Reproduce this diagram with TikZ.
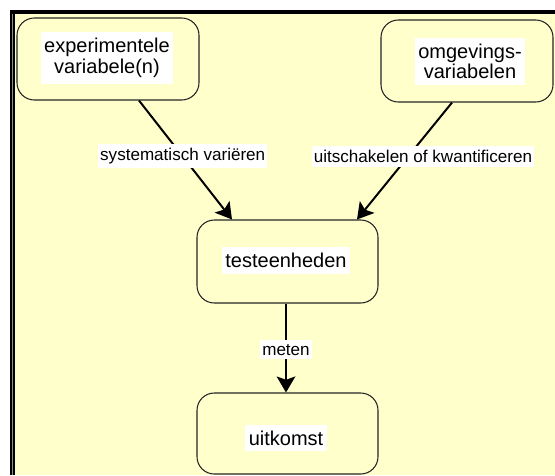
\documentclass[tikz,border=0pt]{standalone}
\usepackage{fontspec}
\setmainfont{Liberation Sans}
\usetikzlibrary{arrows.meta,calc}

\definecolor{paper}{HTML}{FFFFCC}

\tikzset{
  stagebox/.style={draw=black!85, line width=0.8pt, fill=paper,
    rounded corners=13pt, inner sep=0pt},
  stagetext/.style={fill=white, inner xsep=2.5pt, inner ysep=4.5pt, align=center,
    font=\fontsize{15}{15.5}\selectfont},
  flow/.style={line width=1.5pt, -{Stealth[length=12pt,width=14pt,inset=2.5pt]}},
  flowlabel/.style={fill=white, inner xsep=1.5pt, inner ysep=3pt,
    font=\fontsize{12.8}{13}\selectfont, text=black},
}

\begin{document}
\begin{tikzpicture}[x=0.75pt, y=-0.75pt]
  \useasboundingbox (0,0) rectangle (555,475);

  % sheet: white margin, yellow page with a heavy black edge top and left
  \fill[white] (0,0) rectangle (555,475);
  \fill[paper] (14,13) rectangle (555,475);
  \fill[black] (10,10) rectangle (555,13.5);
  \fill[black] (10,10) rectangle (15,475);
  \draw[black!45, line width=0.6pt] (12.6,13.5) -- (12.6,475);

  % stages
  \node[stagebox, minimum width=136.5pt, minimum height=61.5pt] (exp) at (108,59) {};
  \node[stagetext] (expT) at (107,58) {experimentele\\variabele(n)};

  \node[stagebox, minimum width=129pt, minimum height=61.5pt] (env) at (467,61) {};
  \node[stagetext] (envT) at (470,61.5) {omgevings-\\variabelen};

  \node[stagebox, minimum width=135.75pt, minimum height=62.25pt] (test) at (287.5,261.5) {};
  \node[stagetext] (testT) at (286,260.5) {testeenheden};

  \node[stagebox, minimum width=135.75pt, minimum height=60.75pt] (out) at (287.5,433.5) {};
  \node[stagetext] (outT) at (286,438) {uitkomst};

  % connectors
  \draw[flow] ($(exp.south)+(31,0)$) -- node[flowlabel, pos=0.47] (l1) {systematisch variëren}
    ($(test.north)+(-55.5,0)$);
  \draw[flow] ($(env.south)+(-15,0)$) -- node[flowlabel, pos=0.46, xshift=11pt] (l2) {uitschakelen of kwantificeren}
    ($(test.north)+(69.5,0)$);
  \draw[flow] ($(test.south)+(-1.5,0)$) -- node[flowlabel, pos=0.52] (l3) {meten}
    ($(out.north)+(-1.5,0)$);
\end{tikzpicture}
\end{document}
